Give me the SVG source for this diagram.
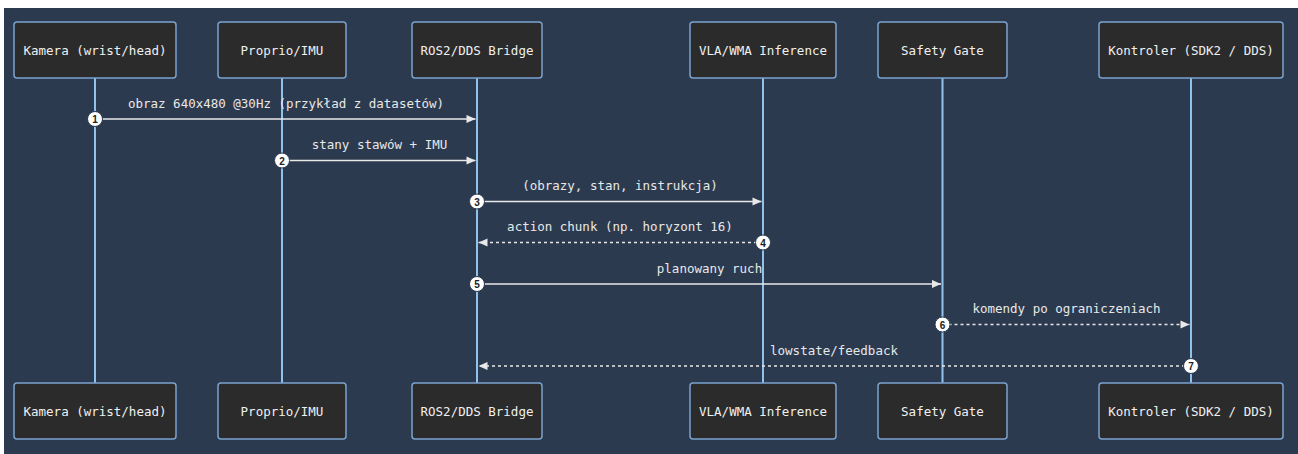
<svg xmlns="http://www.w3.org/2000/svg" width="1298" height="454" viewBox="0 0 1298 454">
<style>
.node rect{fill:#2b2b2b;stroke:#7aa3cf;stroke-width:1.5}
.node text{font-family:"DejaVu Sans Mono","Liberation Mono",monospace;font-size:12.5px;fill:#f0f0f0;text-anchor:middle;dominant-baseline:central}
.life{stroke:#8fc3ee;stroke-width:2}
.msg{stroke:#e8e8e8;stroke-width:1.5;fill:none}
.dot{stroke-dasharray:3 3}
.lbl{font-family:"DejaVu Sans Mono","Liberation Mono",monospace;font-size:12.5px;fill:#e8e8e8;text-anchor:middle}
.num circle{fill:#ffffff;stroke:#2b394e;stroke-width:1}
.num text{font-family:"Liberation Sans",Arial,sans-serif;font-size:10px;font-weight:bold;fill:#222;text-anchor:middle;dominant-baseline:central}
</style>
<defs>
<marker id="ah" viewBox="0 0 10 10" refX="10" refY="5" markerUnits="userSpaceOnUse" markerWidth="10" markerHeight="9" orient="auto-start-reverse">
<path d="M0,0.5 L10,5 L0,9.5 z" fill="#e8e8e8"/>
</marker>
</defs>
<rect x="4" y="8" width="1294" height="446" fill="#2c3a4f"/>
<g id="lifelines">
<line class="life" x1="95" y1="78" x2="95" y2="383"/>
<line class="life" x1="282" y1="78" x2="282" y2="383"/>
<line class="life" x1="477" y1="78" x2="477" y2="383"/>
<line class="life" x1="763" y1="78" x2="763" y2="383"/>
<line class="life" x1="942.5" y1="78" x2="942.5" y2="383"/>
<line class="life" x1="1191" y1="78" x2="1191" y2="383"/>
</g>
<g id="kamera" class="node">
<rect x="14" y="22" width="162" height="56" rx="3"/><text x="95" y="50">Kamera (wrist/head)</text>
<rect x="14" y="383" width="162" height="56" rx="3"/><text x="95" y="411">Kamera (wrist/head)</text>
</g>
<g id="proprio" class="node">
<rect x="218" y="22" width="128" height="56" rx="3"/><text x="282" y="50">Proprio/IMU</text>
<rect x="218" y="383" width="128" height="56" rx="3"/><text x="282" y="411">Proprio/IMU</text>
</g>
<g id="bridge" class="node">
<rect x="412" y="22" width="130" height="56" rx="3"/><text x="477" y="50">ROS2/DDS Bridge</text>
<rect x="412" y="383" width="130" height="56" rx="3"/><text x="477" y="411">ROS2/DDS Bridge</text>
</g>
<g id="vla" class="node">
<rect x="690" y="22" width="146" height="56" rx="3"/><text x="763" y="50">VLA/WMA Inference</text>
<rect x="690" y="383" width="146" height="56" rx="3"/><text x="763" y="411">VLA/WMA Inference</text>
</g>
<g id="safety" class="node">
<rect x="878" y="22" width="129" height="56" rx="3"/><text x="942.5" y="50">Safety Gate</text>
<rect x="878" y="383" width="129" height="56" rx="3"/><text x="942.5" y="411">Safety Gate</text>
</g>
<g id="kontroler" class="node">
<rect x="1099" y="22" width="184" height="56" rx="3"/><text x="1191" y="50">Kontroler (SDK2 / DDS)</text>
<rect x="1099" y="383" width="184" height="56" rx="3"/><text x="1191" y="411">Kontroler (SDK2 / DDS)</text>
</g>
<g id="connectors">
<line class="msg" x1="95" y1="119" x2="475.5" y2="119" marker-end="url(#ah)"/>
<text class="lbl" x="286" y="107.5">obraz 640x480 @30Hz (przykład z datasetów)</text>
<line class="msg" x1="282" y1="160.5" x2="475.5" y2="160.5" marker-end="url(#ah)"/>
<text class="lbl" x="379.5" y="149">stany stawów + IMU</text>
<line class="msg" x1="477" y1="201.5" x2="761.5" y2="201.5" marker-end="url(#ah)"/>
<text class="lbl" x="620" y="190">(obrazy, stan, instrukcja)</text>
<line class="msg dot" x1="763" y1="242.5" x2="478.5" y2="242.5" marker-end="url(#ah)"/>
<text class="lbl" x="620" y="231">action chunk (np. horyzont 16)</text>
<line class="msg" x1="477" y1="284" x2="941" y2="284" marker-end="url(#ah)"/>
<text class="lbl" x="709.5" y="272.5">planowany ruch</text>
<line class="msg dot" x1="942.5" y1="324.5" x2="1189.5" y2="324.5" marker-end="url(#ah)"/>
<text class="lbl" x="1066.5" y="313">komendy po ograniczeniach</text>
<line class="msg dot" x1="1191" y1="366" x2="478.5" y2="366" marker-end="url(#ah)"/>
<text class="lbl" x="834" y="354.5">lowstate/feedback</text>
</g>
<g id="numbers" class="num">
<circle cx="95" cy="119" r="7.5"/><text x="95" y="119.5">1</text>
<circle cx="282" cy="160.5" r="7.5"/><text x="282" y="161">2</text>
<circle cx="477" cy="201.5" r="7.5"/><text x="477" y="202">3</text>
<circle cx="763" cy="242.5" r="7.5"/><text x="763" y="243">4</text>
<circle cx="477" cy="284" r="7.5"/><text x="477" y="284.5">5</text>
<circle cx="942.5" cy="324.5" r="7.5"/><text x="942.5" y="325">6</text>
<circle cx="1191" cy="366" r="7.5"/><text x="1191" y="366.5">7</text>
</g>
</svg>
